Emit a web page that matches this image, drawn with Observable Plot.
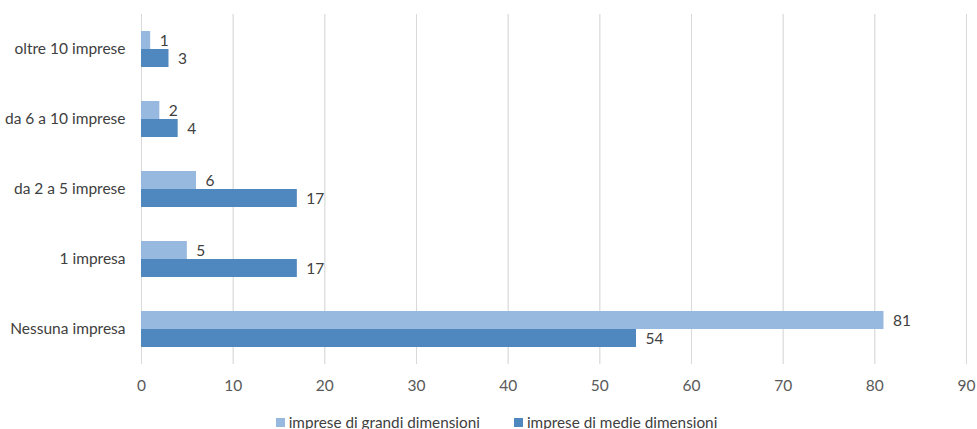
<!DOCTYPE html>
<html><head><meta charset="utf-8">
<script src="https://cdn.jsdelivr.net/npm/d3@7"></script>
<script src="https://cdn.jsdelivr.net/npm/@observablehq/plot@0.6"></script>
<style>
body{margin:0;background:#fff;font-family:Lato,"Open Sans",sans-serif;}
#legend{display:flex;justify-content:center;gap:34px;font-size:15.3px;color:#404040;margin-left:16px;margin-top:7px;height:29px;align-items:center}
#legend span.sw{display:inline-block;width:9px;height:9px;margin-right:4px;vertical-align:middle;position:relative;top:-1px}
</style></head>
<body><div id="chart"></div><div id="legend"></div>
<script>
const categories = ["oltre 10 imprese","da 6 a 10 imprese","da 2 a 5 imprese","1 impresa","Nessuna impresa"];
const series = ["imprese di grandi dimensioni","imprese di medie dimensioni"];
const grandi = [1,2,6,5,81];
const medie = [3,4,17,17,54];
const colors = ["#97b9e0","#4f88bf"];
const xTicks = [0,10,20,30,40,50,60,70,80,90];

const data = [];
categories.forEach((c,i)=>{
  data.push({cat:c, s:series[0], v:grandi[i]});
  data.push({cat:c, s:series[1], v:medie[i]});
});

const plot = Plot.plot({
  width: 977, height: 400,
  marginLeft: 141, marginRight: 11, marginTop: 14, marginBottom: 36,
  style: {fontFamily: "Lato, 'Open Sans', sans-serif", fontSize: "15.5px", color: "#404040", background: "#fff"},
  x: {domain:[0,90], ticks: xTicks, grid: true, tickSize: 0, tickPadding: 15, label: null},
  fy: {domain: categories, padding: 0, axis: "left", tickSize: 0, tickPadding: 16, label: null},
  y: {domain: series, paddingInner: 0, paddingOuter: 0.944, axis: null},
  color: {domain: series, range: colors},
  marks: [
    Plot.gridX(xTicks, {stroke:"#d9d9d9", strokeOpacity:1}),
    Plot.barX(data, {x:"v", y:"s", fy:"cat", fill:"s"}),
    Plot.text(data, {x:"v", y:"s", fy:"cat", text:d=>String(d.v), dx:9, dy:1, textAnchor:"start", fill:"#404040", fontSize:15.5})
  ]
});
plot.querySelectorAll("g[aria-label='x-axis tick label'] text, g[aria-label='x-axis tick label']").forEach(e=>e.setAttribute("fill","#595959"));
document.getElementById("chart").appendChild(plot);

const lg = document.getElementById("legend");
series.forEach((s,i)=>{
  const d = document.createElement("div");
  d.innerHTML = `<span class="sw" style="background:${colors[i]}"></span>${s}`;
  lg.appendChild(d);
});
</script></body></html>
